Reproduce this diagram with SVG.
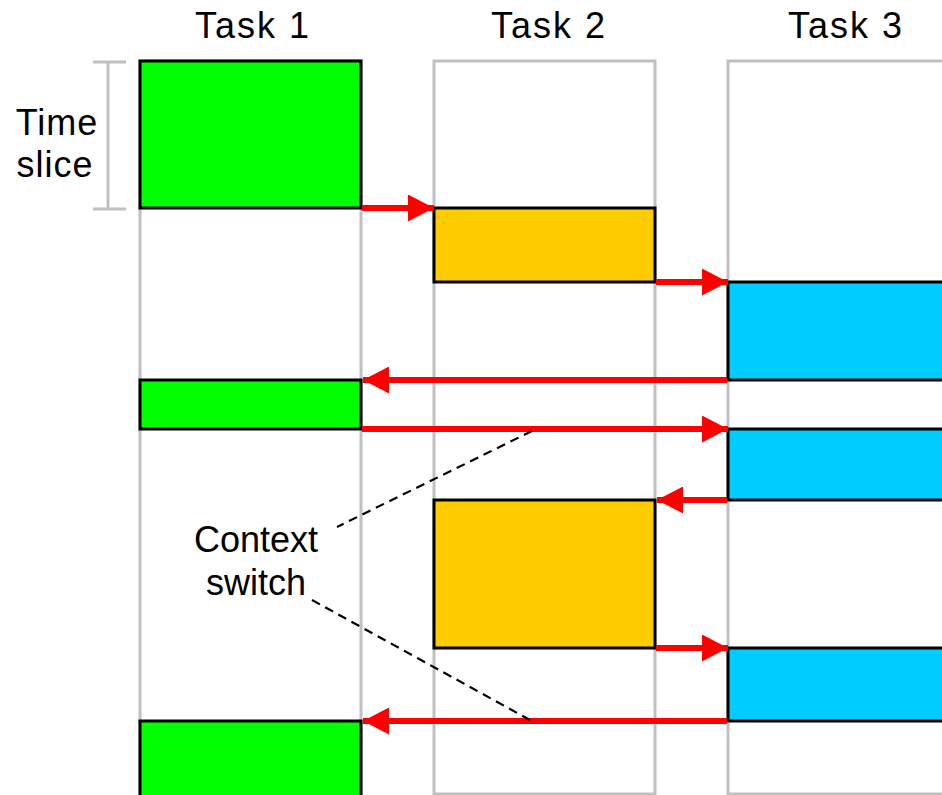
<svg xmlns="http://www.w3.org/2000/svg" width="942" height="795" viewBox="0 0 942 795">
  <style>
    .lane { fill: #ffffff; stroke: #c0c0c0; stroke-width: 3; }
    .slot { stroke: #000000; stroke-width: 3; }
    .t1 { fill: #00ff00; }
    .t2 { fill: #ffcc00; }
    .t3 { fill: #00ccff; }
    .label { font-family: "Liberation Sans", Arial, sans-serif; font-size: 36px; fill: #000000; text-anchor: middle; }
    .head { letter-spacing: 2px; }
    .side { letter-spacing: 1px; }
    .switch { stroke: #ff0000; stroke-width: 6; fill: none; marker-end: url(#head); }
    .lead { stroke: #000000; stroke-width: 2.2; stroke-dasharray: 9 6; fill: none; }
    .bracket { stroke: #c0c0c0; stroke-width: 3; fill: none; }
  </style>
  <defs>
    <marker id="head" viewBox="0 0 26 27" refX="26" refY="13.5" markerWidth="26" markerHeight="27" markerUnits="userSpaceOnUse" orient="auto">
      <path d="M0,0 L26,13.5 L0,27 Z" fill="#ff0000"/>
    </marker>
  </defs>
  <rect width="942" height="795" fill="#ffffff"/>

  <!-- task lanes -->
  <g id="lanes">
    <rect class="lane" x="140" y="61" width="221" height="733"/>
    <rect class="lane" x="434" y="61" width="221" height="733"/>
    <rect class="lane" x="728" y="61" width="240" height="733"/>
  </g>

  <!-- headers -->
  <g id="headers">
    <text class="label head" x="253" y="38">Task 1</text>
    <text class="label head" x="549" y="38">Task 2</text>
    <text class="label head" x="846" y="38">Task 3</text>
  </g>

  <!-- time slice bracket -->
  <g id="time-slice">
    <path class="bracket" d="M93,62 H126 M108,62 V209 M93,209 H126"/>
    <text class="label side" x="57" y="135">Time</text>
    <text class="label side" x="55" y="177">slice</text>
  </g>

  <!-- execution slots -->
  <g id="task1-slot1"><rect class="slot t1" x="140" y="61" width="221" height="147"/></g>
  <g id="task2-slot1"><rect class="slot t2" x="434" y="208" width="221" height="74"/></g>
  <g id="task3-slot1"><rect class="slot t3" x="728" y="282" width="240" height="98"/></g>
  <g id="task1-slot2"><rect class="slot t1" x="140" y="380" width="221" height="49"/></g>
  <g id="task3-slot2"><rect class="slot t3" x="728" y="429" width="240" height="71"/></g>
  <g id="task2-slot2"><rect class="slot t2" x="434" y="500" width="221" height="148"/></g>
  <g id="task3-slot3"><rect class="slot t3" x="728" y="648" width="240" height="73"/></g>
  <g id="task1-slot3"><rect class="slot t1" x="140" y="721" width="221" height="90"/></g>

  <!-- context switches -->
  <g id="connectors">
    <line class="switch" x1="362" y1="208" x2="434" y2="208"/>
    <line class="switch" x1="656" y1="282" x2="728" y2="282"/>
    <line class="switch" x1="727" y1="380" x2="363" y2="380"/>
    <line class="switch" x1="362" y1="429" x2="728" y2="429"/>
    <line class="switch" x1="727" y1="500" x2="657" y2="500"/>
    <line class="switch" x1="656" y1="648" x2="728" y2="648"/>
    <line class="switch" x1="727" y1="721" x2="363" y2="721"/>
    <path class="lead" d="M532,431 L337,527"/>
    <path class="lead" d="M312,600 L530,720"/>
  </g>

  <!-- annotation -->
  <g id="context-switch-label">
    <text class="label" x="256" y="552">Context</text>
    <text class="label" x="256" y="595">switch</text>
  </g>
</svg>
